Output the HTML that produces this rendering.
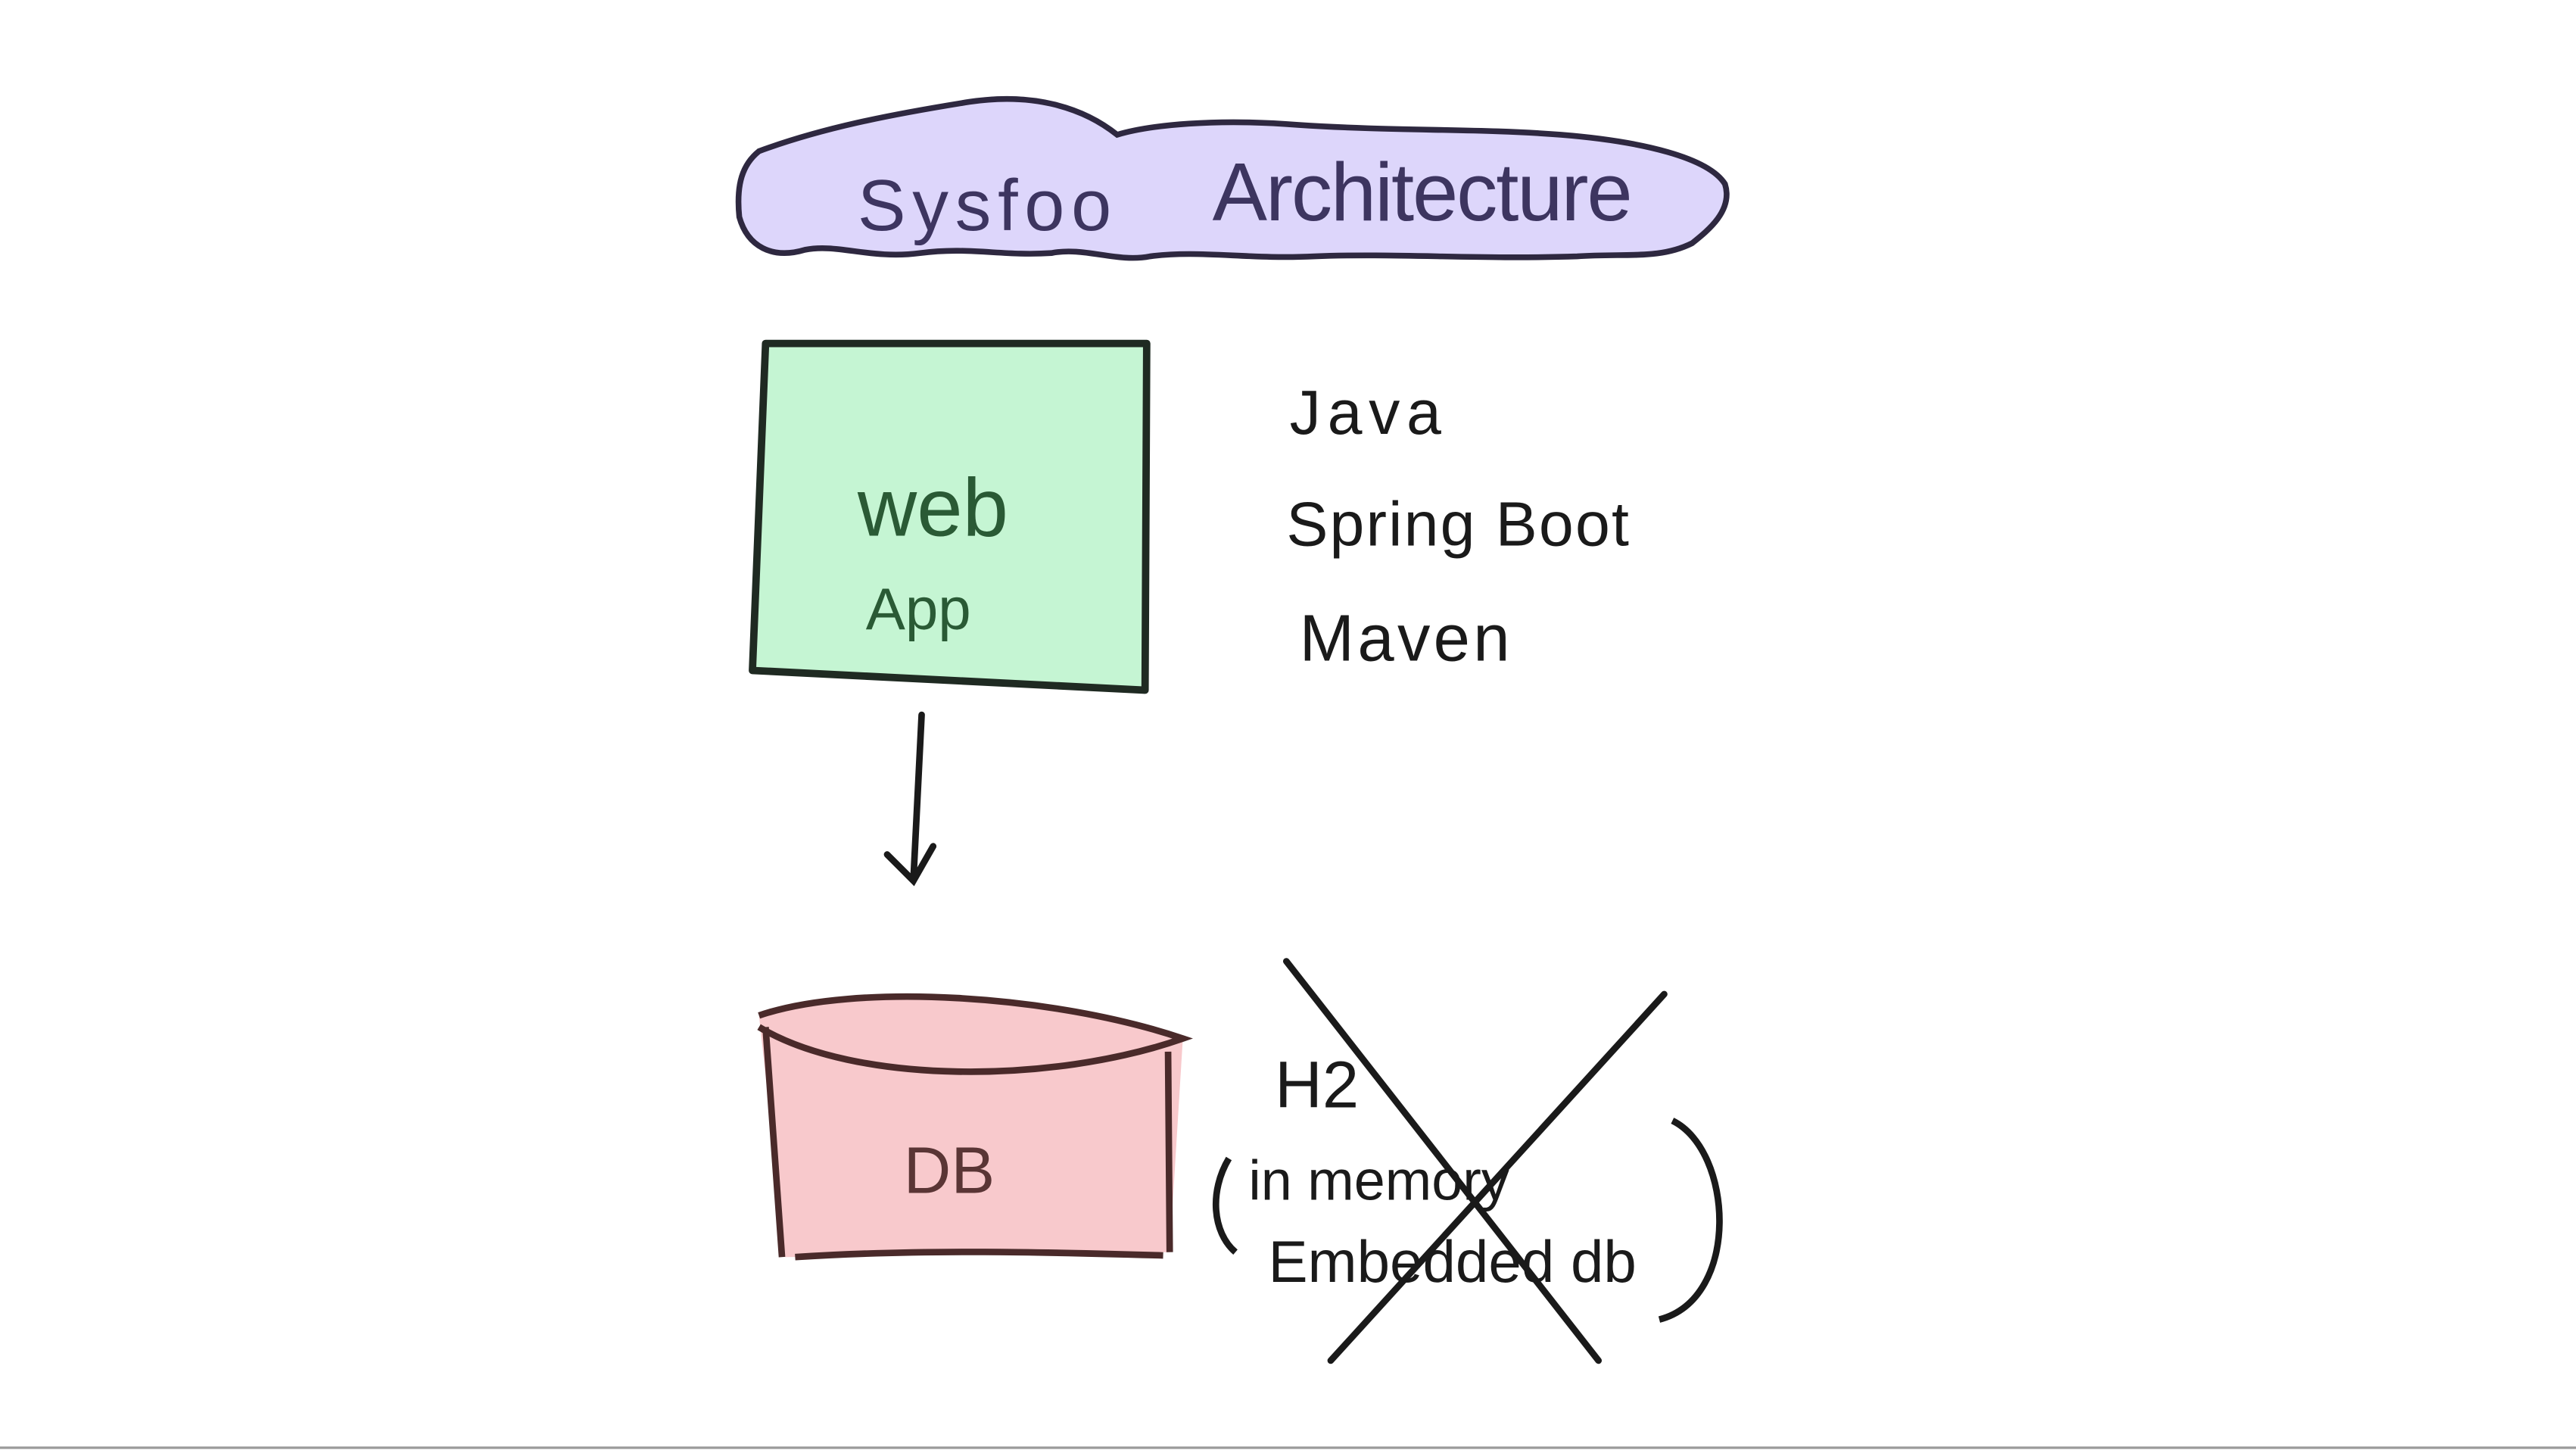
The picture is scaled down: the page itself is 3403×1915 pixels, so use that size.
<!DOCTYPE html>
<html><head><meta charset="utf-8"><style>
html,body{margin:0;padding:0;background:#fff;width:3403px;height:1915px;overflow:hidden}
svg{display:block}
text{font-family:"Liberation Sans",sans-serif}
</style></head><body>
<svg width="3403" height="1915" viewBox="0 0 1568 882.4" preserveAspectRatio="none" xmlns="http://www.w3.org/2000/svg">
<rect width="1568" height="882.4" fill="#fff"/>
<!-- title cloud -->
<path d="M462,92 C500,78 540,70 590,62 C630,56 660,66 680,82 C700,76 740,72 790,76 C850,80 900,78 950,82 C1000,86 1040,96 1050,112 C1055,128 1040,140 1030,148 C1010,158 990,154 960,156 C900,158 850,154 800,156 C760,158 730,152 700,156 C680,160 660,150 640,154 C610,156 590,150 560,154 C530,158 510,148 490,152 C470,158 455,150 450,132 C448,112 452,100 462,92 Z" fill="#ddd6fb" stroke="#2e2840" stroke-width="3.5"/>
<text x="522" y="140" font-size="44" fill="#3d3560" letter-spacing="4">Sysfoo</text>
<text x="738" y="134" font-size="50" fill="#3d3560" letter-spacing="-1">Architecture</text>
<!-- web app box -->
<path d="M466,209 L698,209 L697,420 L458,408 Z" fill="#c5f5d3" stroke="#1f2a22" stroke-width="4.5" stroke-linejoin="round"/>
<text x="522" y="326" font-size="50" fill="#2a5a35">web</text>
<text x="527" y="383" font-size="36" fill="#2a5a35">App</text>
<!-- right labels -->
<text x="785" y="264" font-size="38" fill="#1a1a1a" letter-spacing="4">Java</text>
<text x="783" y="332" font-size="38" fill="#1a1a1a" letter-spacing="1">Spring Boot</text>
<text x="791" y="402" font-size="40" fill="#1a1a1a" letter-spacing="2">Maven</text>
<!-- arrow -->
<path d="M561,435 L556,535 M540,520 L556,536 L568,515" fill="none" stroke="#1a1a1a" stroke-width="4" stroke-linecap="round"/>
<!-- DB cylinder -->
<path d="M462,618 C520,598 640,605 720,632 L712,762 L478,765 Z" fill="#f8c9cc"/>
<path d="M462,618 C520,598 640,605 720,632 C640,660 520,660 462,625" fill="none" stroke="#4a2a2a" stroke-width="4"/>
<path d="M466,625 L476,765 M711,640 L712,762 M484,765 C560,760 640,762 708,764" fill="none" stroke="#4a2a2a" stroke-width="4"/>
<text x="550" y="726" font-size="40" fill="#5a3535">DB</text>
<!-- H2 notes -->
<text x="776" y="674" font-size="40" fill="#1a1a1a">H2</text>
<path d="M748,705 C736,725 738,750 752,762" fill="none" stroke="#1a1a1a" stroke-width="4"/>
<text x="760" y="730" font-size="34" fill="#1a1a1a">in memory</text>
<text x="772" y="780" font-size="36" fill="#1a1a1a">Embedded db</text>
<path d="M1018,682 C1055,700 1060,790 1010,803" fill="none" stroke="#1a1a1a" stroke-width="4"/>
<path d="M783,585 L973,828 M1013,605 L810,828" fill="none" stroke="#1a1a1a" stroke-width="4" stroke-linecap="round"/>
<line x1="0" y1="881" x2="1568" y2="881" stroke="#9a9a9a" stroke-width="1.5"/>
</svg>
</body></html>
